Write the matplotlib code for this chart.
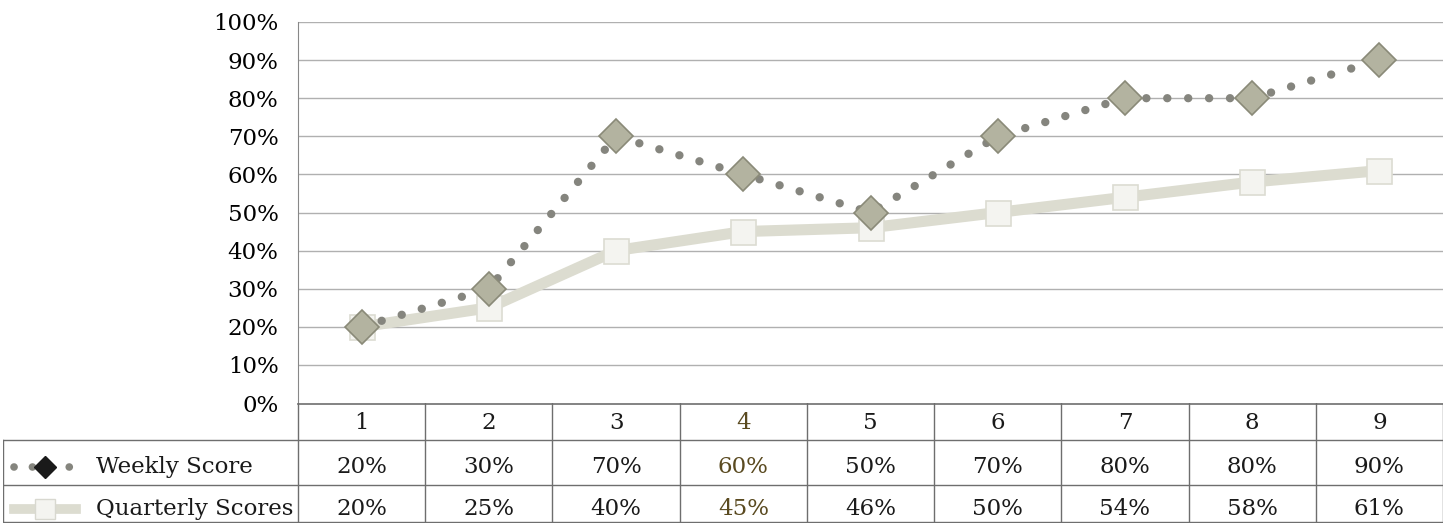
import numpy as np
import matplotlib
matplotlib.use("Agg")
import matplotlib.pyplot as plt
from matplotlib.lines import Line2D

plt.rcParams['font.family'] = ['DejaVu Serif']

weeks = [1, 2, 3, 4, 5, 6, 7, 8, 9]
weekly = [20, 30, 70, 60, 50, 70, 80, 80, 90]
quarterly = [20, 25, 40, 45, 46, 50, 54, 58, 61]
series_names = ['Weekly Score', 'Quarterly Scores']

W, H = 1444, 529
FS = 16.5
fig = plt.figure(figsize=(W / 100, H / 100), dpi=100)

def px_axes(x0, y0, x1, y1):
    return fig.add_axes([x0 / W, 1 - y1 / H, (x1 - x0) / W, (y1 - y0) / H])

# plot area
ax = px_axes(298, 22, 1443, 403)
ax.set_xlim(0.5, 9.5)
ax.set_ylim(0, 100)
ax.set_yticks(np.arange(0, 101, 10))
ax.set_yticklabels([f'{v}%' for v in range(0, 101, 10)], fontsize=FS)
ax.tick_params(axis='y', length=0, pad=14)
ax.set_xticks([])
for v in range(10, 101, 10):
    ax.axhline(v, color='#b0b0b0', lw=1.0, zorder=0)
for s in ['top', 'right', 'bottom']:
    ax.spines[s].set_visible(False)
ax.spines['left'].set_color('#888888')

q_line = dict(color='#dcdcd0', lw=8, marker='s', markersize=18,
              markerfacecolor='#f4f4f0', markeredgecolor='#dcdcd2', markeredgewidth=1.2)
w_line = dict(color='#85857e', lw=6, linestyle=(0, (0.01, 2.5)), dash_capstyle='round',
              marker='D', markersize=17, markerfacecolor='#b3b3a0',
              markeredgecolor='#8a8a78', markeredgewidth=1.2)
ax.plot(weeks, quarterly, **q_line, zorder=2)
ax.plot(weeks, weekly, **w_line, zorder=3)

# data table under the plot
tb = px_axes(3, 403, 1443, 523)
x_left = 0.5 - 295 / 127.2
tb.set_xlim(x_left, 9.5)
tb.set_ylim(523, 403)
tb.axis('off')
gc = '#6e6e6e'
tb.plot([0.5, 9.5], [403.5, 403.5], color=gc, lw=1.2)
for y in [440, 485, 522]:
    tb.plot([x_left, 9.5], [y, y], color=gc, lw=1.0)
tb.plot([x_left, x_left], [440, 522], color=gc, lw=1.0)
for k in range(10):
    tb.plot([0.5 + k, 0.5 + k], [403, 522], color=gc, lw=1.0)

txt_col = ['#1a1a1a'] * 9
txt_col[3] = '#5a4a20'
for i, wk in enumerate(weeks):
    tb.text(wk, 423, str(wk), ha='center', va='center', fontsize=FS, color=txt_col[i])
    tb.text(wk, 467, f'{weekly[i]}%', ha='center', va='center', fontsize=FS, color=txt_col[i])
    tb.text(wk, 509, f'{quarterly[i]}%', ha='center', va='center', fontsize=FS, color=txt_col[i])

# legend keys
kx = x_left + np.array([0.09, 0.33, 0.57])
tb.add_line(Line2D(kx, [467] * 3, color='#85857e', lw=5.5, linestyle=(0, (0.01, 2.4)),
                   dash_capstyle='round'))
tb.add_line(Line2D([kx[1]], [467], marker='D', markersize=11, color='#1a1a1a', lw=0))
tb.add_line(Line2D(kx, [509] * 3, color='#dcdcd0', lw=7))
tb.add_line(Line2D([kx[1]], [509], marker='s', markersize=14, markerfacecolor='#f4f4f0',
                   markeredgecolor='#d8d8d0', lw=0))
tb.text(x_left + 0.73, 467, series_names[0], ha='left', va='center', fontsize=FS, color='#1a1a1a')
tb.text(x_left + 0.73, 509, series_names[1], ha='left', va='center', fontsize=FS, color='#1a1a1a')

fig.savefig('out.png', dpi=100)
